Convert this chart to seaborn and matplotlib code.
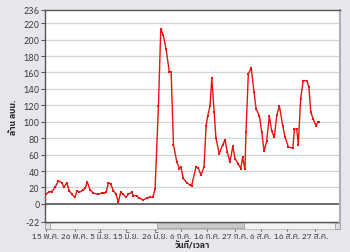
import matplotlib
matplotlib.use("Agg")
import matplotlib.pyplot as plt
import seaborn as sns
import pandas as pd
from matplotlib import font_manager
from matplotlib.ft2font import FT2Font
from matplotlib.patches import Rectangle

# ---- data ----
day_offsets = [0, 1.3, 2.2, 3.5, 4.7, 6.1, 6.9, 8.0, 9.0, 9.9, 11.2, 11.9, 12.9, 14.2, 15.1,
               15.9, 17.0, 18.3, 20.2, 21.5, 22.4, 23.2, 24.1, 25.0, 26.0, 27.0, 27.9, 28.8,
               29.8, 30.9, 31.8, 33.1, 33.7, 35.0, 36.0, 37.6, 38.9, 40.2, 41.2, 42.1, 43.4,
               44.3, 45.3, 46.3, 47.6, 48.3, 49.2, 50.5, 51.5, 52.1, 53.0, 54.3, 55.6, 56.2,
               57.9, 58.8, 59.8, 61.0, 61.8, 62.4, 63.3, 64.0, 64.9, 65.6, 66.9, 68.2, 69.1,
               70.0, 71.0, 72.1, 73.0, 74.2, 75.2, 75.9, 76.8, 77.2, 78.1, 79.2, 80.3, 81.1,
               82.4, 83.3, 84.2, 85.2, 86.2, 87.1, 88.1, 89.1, 90.1, 91.4, 92.3, 93.6, 95.3,
               95.9, 96.8, 97.4, 98.3, 99.3, 100.7, 101.5, 102.2, 103.2, 104.2, 105.1, 105.5]
volumes = [12, 15, 15, 20, 28, 26, 20, 26, 16, 12, 8, 16, 14, 17, 19,
           27, 17, 13, 12, 13, 13, 14, 26, 24, 16, 12, 2, 14,
           12, 8, 12, 14, 10, 10, 7, 5, 7, 8, 8, 18, 119,
           213, 205, 189, 161, 161, 72, 51, 43, 45, 31, 26, 23, 22,
           45, 44, 35, 45, 95, 107, 119, 153, 112, 80, 61, 72, 78,
           63, 51, 70, 55, 49, 43, 57, 42, 87, 158, 166, 136, 116,
           107, 87, 64, 77, 107, 89, 81, 108, 119, 95, 81, 69, 68,
           91, 91, 72, 128, 150, 150, 142, 112, 103, 95, 100, 100]
tick_days = [0, 11, 21, 31, 42, 52, 62, 73, 83, 93, 104]
tick_labels = ["15 พ.ค.", "26 พ.ค.", "5 มิ.ย.", "15 มิ.ย.", "26 มิ.ย.", "6 ก.ค.",
               "16 ก.ค.", "27 ก.ค.", "6 ส.ค.", "16 ส.ค.", "27 ส.ค."]
ytick_values = [-22, 0, 20, 40, 60, 80, 100, 120, 140, 160, 180, 200, 220, 236]
ylabel_text = "ล้าน ลบม."
xlabel_text = "วันที่/เวลา"


def find_thai_font():
    cands = []
    for f in font_manager.fontManager.ttflist:
        try:
            cm = FT2Font(f.fname).get_charmap()
        except Exception:
            continue
        if 0x0E27 in cm and 0x0E25 in cm:
            cands.append(f.name)
    for n in cands:
        if "Sans" in n:
            return n
    return cands[0] if cands else None


sns.set_theme(style="white")
thai = find_thai_font()
fams = ([thai] if thai else []) + ["DejaVu Sans"]
plt.rcParams["font.family"] = fams

BG = "#e9e5ec"
fig = plt.figure(figsize=(3.5, 2.53), dpi=100, facecolor=BG)
W, H = 350, 253
L, R, T, B = 45, 340, 11, 223
ax = fig.add_axes([L / W, (H - B) / H, (R - L) / W, (B - T) / H])
ax.set_facecolor("white")

df = pd.DataFrame({"day": day_offsets, "vol": volumes})
sns.lineplot(data=df, x="day", y="vol", ax=ax, color="#ee1111", lw=1.0,
             marker="s", markersize=1.6, markeredgewidth=0, zorder=5)

ax.set_xlim(-0.4, 113.5)
ax.set_ylim(-22, 236)
ax.set_yticks(ytick_values)
ax.set_yticklabels([str(v) for v in ytick_values])
for v in ytick_values:
    if v not in (-22, 0, 236):
        ax.axhline(v, color="#d4d4d4", lw=0.9, zorder=1)
ax.axhline(0, color="#555555", lw=1.2, zorder=2)

ax.set_xticks(tick_days)
ax.set_xticklabels(tick_labels)

for s in ["left", "top"]:
    ax.spines[s].set_color("#555555")
    ax.spines[s].set_linewidth(1.0)
ax.spines["right"].set_color("#b0b0b0")
ax.spines["right"].set_linewidth(1.5)
ax.spines["bottom"].set_position(("outward", 4.5))
ax.spines["bottom"].set_visible(False)
ax.plot([0, 1], [0, 0], transform=ax.transAxes, color="#555555", lw=1.0, clip_on=False)

ax.tick_params(axis="y", direction="out", length=3, width=0.8, color="#555555",
               labelsize=6.5, labelcolor="#333333", pad=1, left=True)
ax.tick_params(axis="x", direction="out", length=2.5, width=0.8, color="#555555",
               labelsize=5.9, labelcolor="#333333", pad=0.5, bottom=True)

ax.set_xlabel(xlabel_text, fontsize=6.0, fontweight="bold", labelpad=0, color="#222222")
ax.set_ylabel(ylabel_text, fontsize=6.2, fontweight="bold", labelpad=4, color="#222222")

# decorative scrollbar under the plot
sy = (H - 229.5) / H
sh = 6 / H
fig.add_artist(Rectangle((L / W, sy), (R - L) / W, sh, transform=fig.transFigure,
                         facecolor="#f2f2f2", edgecolor="#b8b8b8", lw=0.6))
fig.add_artist(Rectangle((157 / W, sy + 0.5 / H), 87 / W, sh - 1 / H, transform=fig.transFigure,
                         facecolor="#c9c9c9", edgecolor="#a0a0a0", lw=0.6))
fig.add_artist(Rectangle((L / W, sy), 5 / W, sh, transform=fig.transFigure,
                         facecolor="#e0e0e0", edgecolor="#909090", lw=0.5))
fig.add_artist(Rectangle(((R - 5) / W, sy), 5 / W, sh, transform=fig.transFigure,
                         facecolor="#e0e0e0", edgecolor="#909090", lw=0.5))

fig.savefig("out.png", dpi=100, facecolor=BG)
